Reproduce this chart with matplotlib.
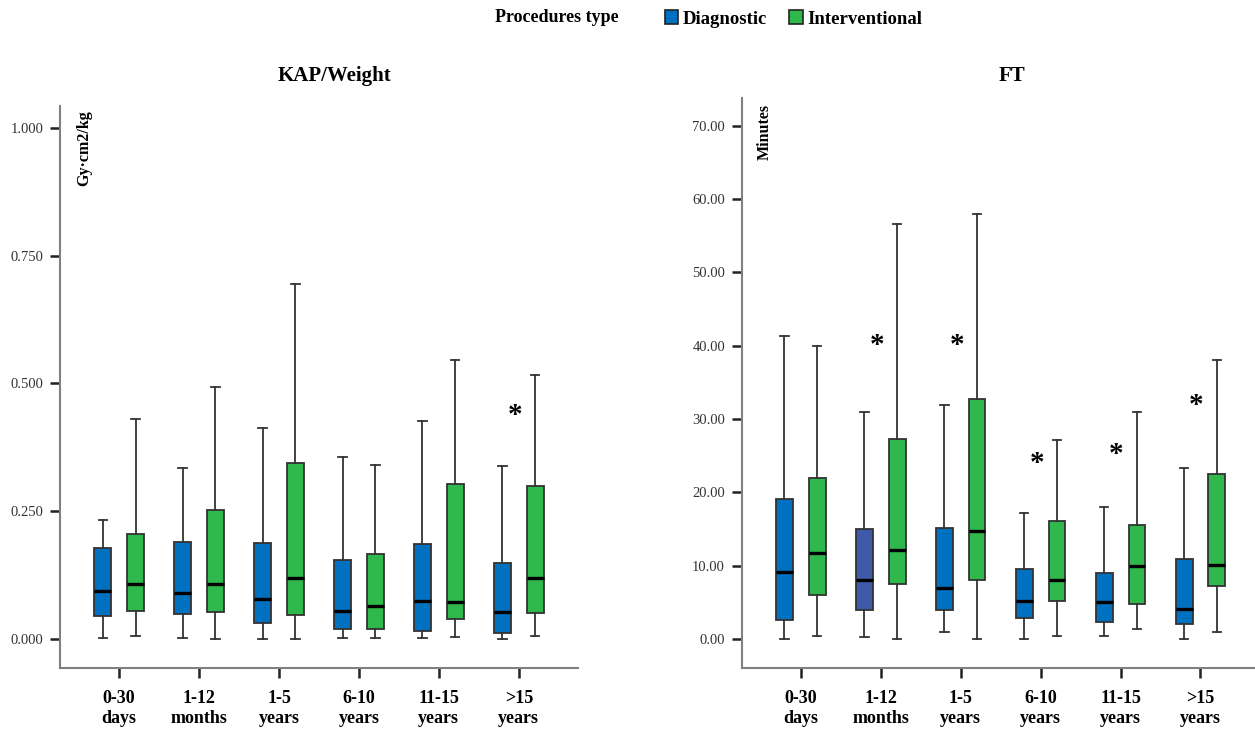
import numpy as np
import matplotlib
matplotlib.use("Agg")
import matplotlib.pyplot as plt
from matplotlib.patches import Patch
from matplotlib.transforms import offset_copy

plt.rcParams['font.family'] = ['Liberation Serif', 'DejaVu Serif']

groups = ["0-30\ndays", "1-12\nmonths", "1-5\nyears", "6-10\nyears", "11-15\nyears", ">15\nyears"]

# KAP/Weight (Gy·cm2/kg): whisker low, Q1, median, Q3, whisker high
kap_diag_lo = [0.003, 0.002, 0.001, 0.002, 0.002, 0.000]
kap_diag_q1 = [0.046, 0.050, 0.032, 0.020, 0.015, 0.012]
kap_diag_med = [0.094, 0.090, 0.078, 0.054, 0.074, 0.053]
kap_diag_q3 = [0.179, 0.190, 0.187, 0.155, 0.186, 0.148]
kap_diag_hi = [0.233, 0.334, 0.413, 0.357, 0.426, 0.339]

kap_int_lo = [0.007, 0.000, 0.001, 0.003, 0.005, 0.006]
kap_int_q1 = [0.055, 0.053, 0.048, 0.020, 0.040, 0.051]
kap_int_med = [0.107, 0.108, 0.119, 0.064, 0.073, 0.120]
kap_int_q3 = [0.206, 0.253, 0.345, 0.166, 0.304, 0.299]
kap_int_hi = [0.430, 0.494, 0.695, 0.340, 0.545, 0.517]

# FT (minutes)
ft_diag_lo = [0.0, 0.3, 1.0, 0.0, 0.45, 0.0]
ft_diag_q1 = [2.6, 4.0, 4.0, 2.8, 2.3, 2.0]
ft_diag_med = [9.1, 8.0, 7.0, 5.2, 5.0, 4.1]
ft_diag_q3 = [19.1, 15.0, 15.2, 9.55, 9.0, 10.9]
ft_diag_hi = [41.3, 31.0, 31.9, 17.2, 18.0, 23.3]

ft_int_lo = [0.45, 0.0, 0.0, 0.45, 1.3, 1.0]
ft_int_q1 = [6.0, 7.5, 8.1, 5.2, 4.8, 7.2]
ft_int_med = [11.8, 12.1, 14.7, 8.05, 9.9, 10.05]
ft_int_q3 = [22.0, 27.3, 32.7, 16.1, 15.55, 22.5]
ft_int_hi = [40.0, 56.6, 58.0, 27.2, 31.0, 38.0]

kap_star_groups = [5]
kap_star_values = [0.447]
ft_star_groups = [1, 2, 3, 4, 5]
ft_star_values = [40.7, 40.7, 24.6, 25.9, 32.6]

blue = "#0070C0"
blue_alt = "#3F58A8"
green = "#2FB84B"


def stats(lo, q1, med, q3, hi):
    return [dict(whislo=a, q1=b, med=c, q3=d, whishi=e, fliers=[])
            for a, b, c, d, e in zip(lo, q1, med, q3, hi)]


def draw_boxes(ax, st, pos, colors):
    bp = ax.bxp(st, positions=pos, widths=0.21, patch_artist=True,
                showfliers=False, manage_ticks=False,
                boxprops=dict(edgecolor="#333333", linewidth=1.3),
                medianprops=dict(color="black", linewidth=2.4),
                whiskerprops=dict(color="#333333", linewidth=1.3),
                capprops=dict(color="#333333", linewidth=1.3))
    for patch, c in zip(bp["boxes"], colors):
        patch.set_facecolor(c)


def style_axis(ax):
    for s in ["top", "right"]:
        ax.spines[s].set_visible(False)
    for s in ["left", "bottom"]:
        ax.spines[s].set_color("#808080")
        ax.spines[s].set_linewidth(1.5)
    ax.tick_params(axis="y", direction="out", length=7, width=1.8, color="#222222",
                   labelsize=10.5, labelcolor="#333333", pad=5)
    ax.tick_params(axis="x", direction="out", length=7, width=1.8, color="#222222",
                   labelsize=13, pad=9)
    ax.set_xlim(-0.74, 5.74)
    ax.set_xticks(np.arange(len(groups)))
    ax.set_xticklabels(groups, fontweight="bold", linespacing=1.25)


def draw_stars(ax, gs, vs):
    tr = offset_copy(ax.transData, fig=ax.figure, y=-5, units="dots")
    for g, v in zip(gs, vs):
        ax.text(g - 0.05, v, "*", fontsize=21, fontweight="bold",
                ha="center", va="center", transform=tr)


fig = plt.figure(figsize=(12.55, 7.3), dpi=100)
ax1 = fig.add_axes([0.0478, 0.0849, 0.4127, 0.7700])
ax2 = fig.add_axes([0.5910, 0.0849, 0.4127, 0.7808])

x = np.arange(len(groups))

draw_boxes(ax1, stats(kap_diag_lo, kap_diag_q1, kap_diag_med, kap_diag_q3, kap_diag_hi),
           x - 0.205, [blue] * 6)
draw_boxes(ax1, stats(kap_int_lo, kap_int_q1, kap_int_med, kap_int_q3, kap_int_hi),
           x + 0.205, [green] * 6)
style_axis(ax1)
ax1.set_ylim(-0.0566, 1.043)
ax1.set_yticks([0, 0.25, 0.5, 0.75, 1.0])
ax1.set_yticklabels(["0.000", "0.250", "0.500", "0.750", "1.000"])
draw_stars(ax1, kap_star_groups, kap_star_values)
ax1.text(0.046, 0.993, "Gy·cm2/kg", transform=ax1.transAxes, rotation=90,
         ha="center", va="top", fontsize=11.5, fontweight="bold")

diag_colors = [blue, blue_alt, blue, blue, blue, blue]
draw_boxes(ax2, stats(ft_diag_lo, ft_diag_q1, ft_diag_med, ft_diag_q3, ft_diag_hi),
           x - 0.205, diag_colors)
draw_boxes(ax2, stats(ft_int_lo, ft_int_q1, ft_int_med, ft_int_q3, ft_int_hi),
           x + 0.205, [green] * 6)
style_axis(ax2)
ax2.set_ylim(-3.96, 73.8)
ax2.set_yticks(np.arange(0, 71, 10))
ax2.set_yticklabels(["%.2f" % v for v in np.arange(0, 71, 10)])
draw_stars(ax2, ft_star_groups, ft_star_values)
ax2.text(0.045, 0.99, "Minutes", transform=ax2.transAxes, rotation=90,
         ha="center", va="top", fontsize=11.5, fontweight="bold")

fig.text(335 / 1255, 1 - 76 / 730, "KAP/Weight", ha="center", va="center",
         fontsize=15, fontweight="bold")
fig.text(1012 / 1255, 1 - 76 / 730, "FT", ha="center", va="center",
         fontsize=15, fontweight="bold")

fig.text(557 / 1255, 1 - 18 / 730, "Procedures type", ha="center", va="center",
         fontsize=13, fontweight="bold")
handles = [Patch(facecolor=blue, edgecolor="#222222", linewidth=1.2, label="Diagnostic"),
           Patch(facecolor=green, edgecolor="#222222", linewidth=1.2, label="Interventional")]
fig.legend(handles=handles, loc="center left", bbox_to_anchor=(648 / 1255, 1 - 19 / 730),
           ncol=2, frameon=False, handlelength=0.7, handleheight=0.7, handletextpad=0.25,
           columnspacing=1.2, prop=dict(size=13.5, weight="bold"))

fig.savefig("out.png", dpi=100)
